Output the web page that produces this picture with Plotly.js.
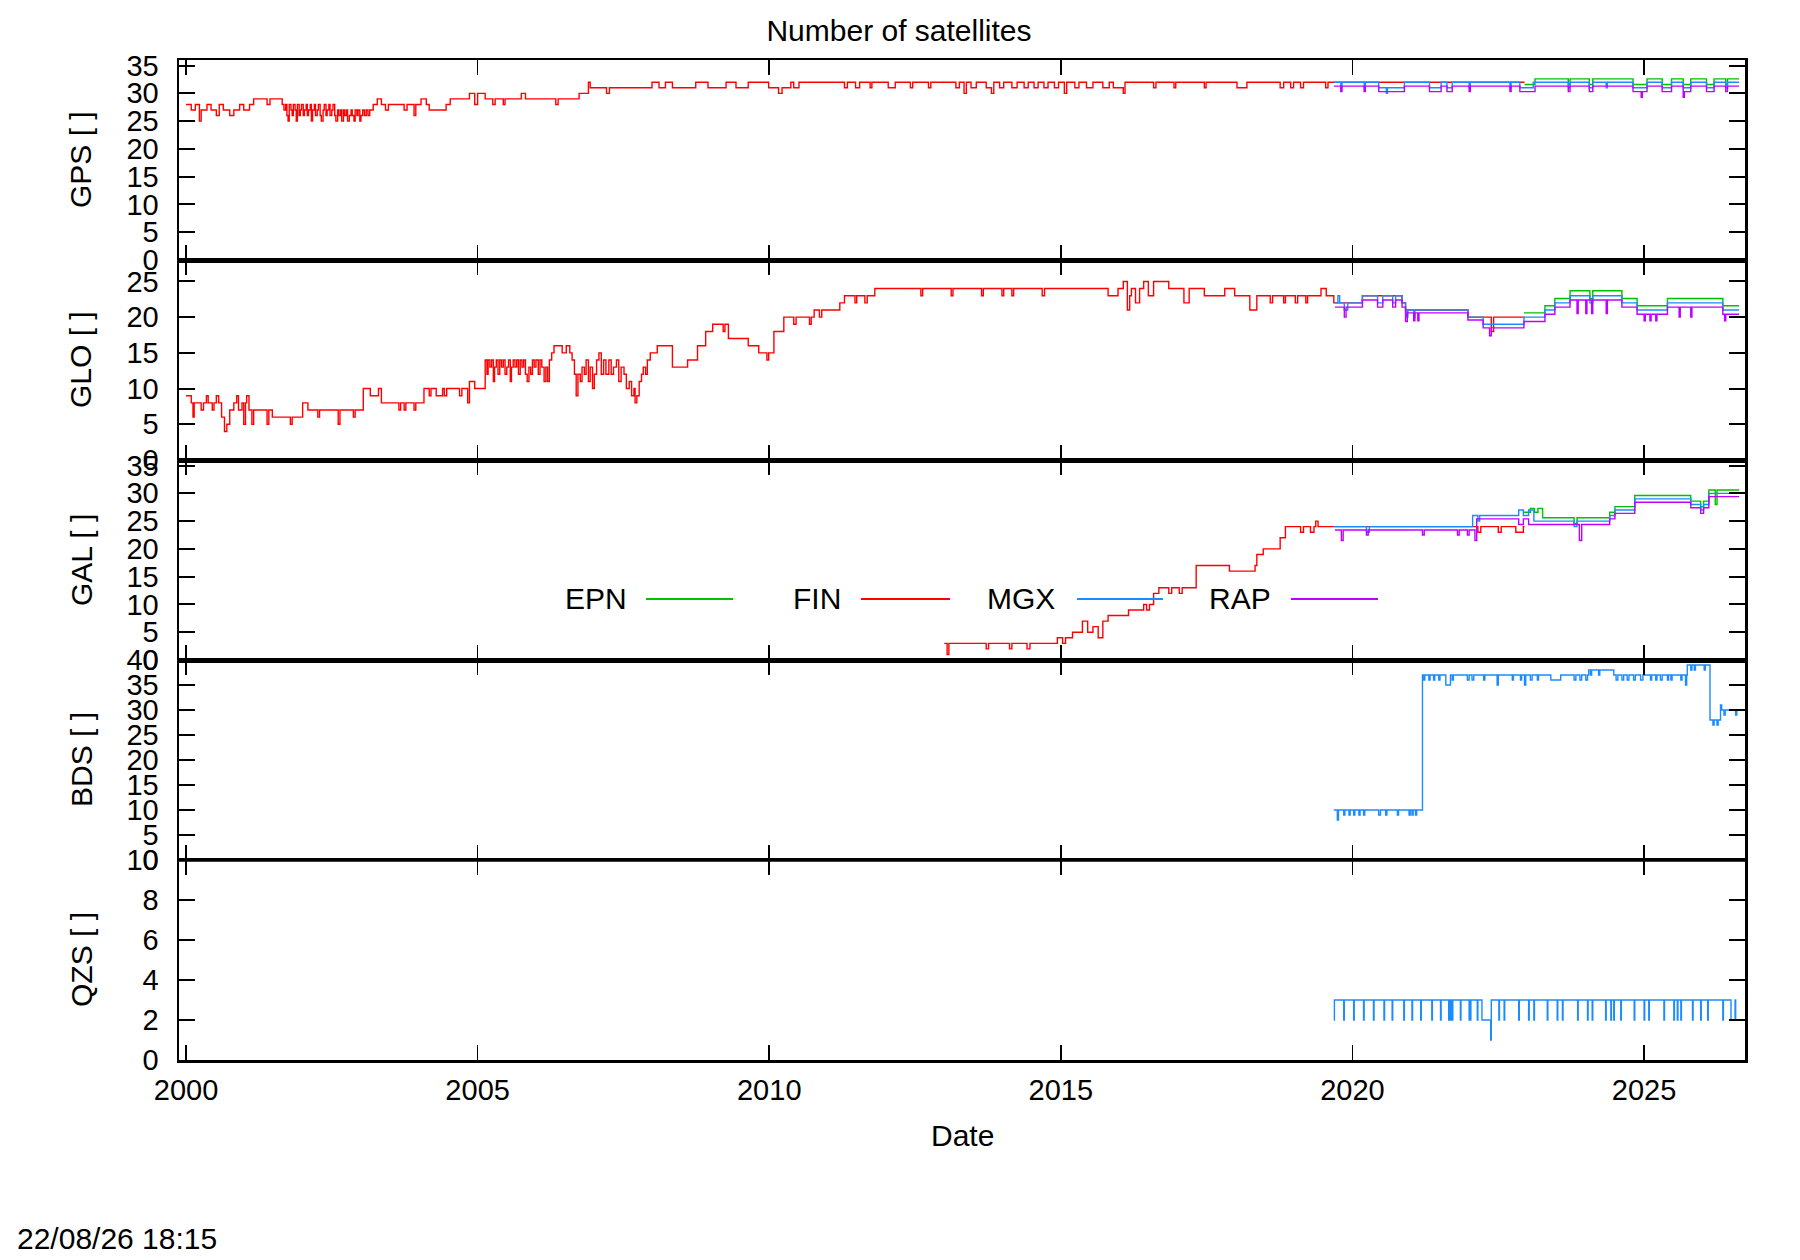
<!DOCTYPE html>
<html>
<head>
<meta charset="utf-8">
<script src="https://cdn.plot.ly/plotly-3.0.1.min.js"></script>
<style>
  html, body { margin: 0; padding: 0; background: #fff; }
  #chart { width: 1800px; height: 1260px; }
</style>
</head>
<body>
<div id="chart"></div>
<script>
// series are [decimal year, number of satellites] step points

const gpsFin = [[2000.00,28],[2000.09,27],[2000.16,28],[2000.23,25],[2000.26,27],[2000.36,28],[2000.43,27],[2000.52,26],[2000.57,28],[2000.64,27],[2000.75,26],[2000.82,27],[2000.92,28],[2000.99,27],[2001.09,28],[2001.16,29],[2001.39,28],[2001.44,29],[2001.65,28],[2001.68,27],[2001.71,28],[2001.73,26],[2001.75,25],[2001.77,28],[2001.80,27],[2001.82,26],[2001.84,28],[2001.87,27],[2001.89,25],[2001.91,28],[2001.94,26],[2001.96,27],[2001.98,28],[2002.01,26],[2002.03,27],[2002.06,28],[2002.08,26],[2002.10,27],[2002.13,28],[2002.15,25],[2002.17,27],[2002.20,28],[2002.22,26],[2002.25,27],[2002.27,28],[2002.30,26],[2002.32,25],[2002.35,27],[2002.37,28],[2002.40,26],[2002.42,27],[2002.45,28],[2002.47,26],[2002.50,27],[2002.52,28],[2002.55,26],[2002.57,25],[2002.60,27],[2002.62,26],[2002.65,27],[2002.67,25],[2002.70,27],[2002.72,26],[2002.75,27],[2002.77,25],[2002.80,26],[2002.83,27],[2002.85,26],[2002.88,25],[2002.90,27],[2002.93,26],[2002.95,27],[2002.98,25],[2003.00,26],[2003.03,27],[2003.06,26],[2003.09,27],[2003.12,26],[2003.15,27],[2003.21,28],[2003.28,29],[2003.35,28],[2003.42,27],[2003.47,28],[2003.74,27],[2003.79,28],[2003.91,26],[2003.94,28],[2004.03,29],[2004.12,28],[2004.17,27],[2004.46,28],[2004.53,29],[2004.86,30],[2004.95,28],[2005.00,30],[2005.13,29],[2005.26,28],[2005.30,29],[2005.44,28],[2005.47,29],[2005.75,30],[2005.82,29],[2006.34,28],[2006.38,29],[2006.74,30],[2006.90,32],[2006.93,31],[2007.21,30],[2007.26,31],[2007.99,32],[2008.11,31],[2008.22,32],[2008.34,31],[2008.74,32],[2008.95,31],[2009.26,32],[2009.43,31],[2009.64,32],[2009.99,31],[2010.16,30],[2010.22,31],[2010.37,32],[2010.42,31],[2010.51,32],[2011.29,31],[2011.34,32],[2011.48,31],[2011.55,32],[2011.73,31],[2011.76,32],[2012.04,31],[2012.16,32],[2012.42,31],[2012.46,32],[2012.73,31],[2012.77,32],[2013.20,31],[2013.26,32],[2013.34,30],[2013.38,32],[2013.46,31],[2013.55,32],[2013.72,31],[2013.81,30],[2013.85,32],[2013.95,31],[2014.02,32],[2014.16,31],[2014.25,32],[2014.37,31],[2014.44,32],[2014.54,31],[2014.61,32],[2014.71,31],[2014.78,32],[2014.89,31],[2014.96,32],[2015.06,30],[2015.10,32],[2015.24,31],[2015.31,32],[2015.44,31],[2015.55,32],[2015.72,31],[2015.83,32],[2015.90,31],[2016.07,30],[2016.10,32],[2016.59,31],[2016.63,32],[2016.94,31],[2016.97,32],[2017.46,31],[2017.49,32],[2018.02,31],[2018.19,32],[2018.76,31],[2018.82,32],[2018.94,31],[2018.99,32],[2019.11,31],[2019.16,32],[2019.54,31],[2019.58,32],[2022.95,32]];

const gpsEpn = [[2022.95,31.6],[2023.13,32.6],[2023.70,31.6],[2023.73,32.6],[2024.06,31.6],[2024.12,32.6],[2024.81,31.6],[2025.05,32.6],[2025.31,31.6],[2025.47,32.6],[2025.67,31.6],[2025.80,32.6],[2026.07,31.6],[2026.20,32.6],[2026.40,31.6],[2026.43,32.6],[2026.63,32.6]];

const gpsMgx = [[2019.68,32],[2019.80,31],[2019.82,32],[2020.20,31],[2020.22,32],[2020.45,31],[2020.58,30],[2020.60,31],[2020.89,32],[2021.32,31],[2021.52,32],[2021.62,31],[2021.71,32],[2022.00,31],[2022.02,32],[2022.70,31],[2022.72,32],[2022.87,31],[2023.10,32],[2023.70,31],[2023.73,32],[2024.06,31],[2024.12,32],[2024.35,31],[2024.37,32],[2024.81,31],[2025.05,32],[2025.31,31],[2025.47,32],[2025.67,31],[2025.80,32],[2026.07,31],[2026.20,32],[2026.40,31],[2026.43,32],[2026.63,32]];

const gpsRap = [[2019.68,31.3],[2019.80,30.3],[2019.82,31.3],[2020.20,30.3],[2020.22,31.3],[2020.45,30.3],[2020.89,31.3],[2021.32,30.3],[2021.52,31.3],[2021.62,30.3],[2021.71,31.3],[2022.00,30.3],[2022.02,31.3],[2022.70,30.3],[2022.72,31.3],[2022.87,30.3],[2023.13,31.3],[2023.70,30.3],[2023.73,31.3],[2024.06,30.3],[2024.12,31.3],[2024.81,30.3],[2024.95,29.3],[2024.97,30.3],[2025.05,31.3],[2025.31,30.3],[2025.47,31.3],[2025.67,29.3],[2025.69,30.3],[2025.80,31.3],[2026.07,30.3],[2026.20,31.3],[2026.40,30.3],[2026.43,31.3],[2026.63,31.3]];

const gloFin = [[2000.00,9],[2000.09,8],[2000.12,6],[2000.14,8],[2000.26,7],[2000.30,8],[2000.35,9],[2000.38,8],[2000.45,7],[2000.48,8],[2000.52,9],[2000.56,8],[2000.61,6],[2000.66,4],[2000.70,5],[2000.75,7],[2000.82,8],[2000.87,9],[2000.90,7],[2000.96,8],[2000.99,5],[2001.02,8],[2001.04,9],[2001.08,7],[2001.13,5],[2001.16,7],[2001.39,5],[2001.42,7],[2001.48,6],[2001.79,5],[2001.82,6],[2002.00,8],[2002.09,7],[2002.26,6],[2002.29,7],[2002.61,5],[2002.64,7],[2002.87,6],[2002.90,7],[2003.04,10],[2003.16,9],[2003.30,10],[2003.35,8],[2003.65,7],[2003.68,8],[2003.74,7],[2003.77,8],[2003.91,7],[2003.94,8],[2004.08,10],[2004.17,9],[2004.20,10],[2004.29,9],[2004.40,10],[2004.43,9],[2004.47,10],[2004.69,9],[2004.73,10],[2004.83,8],[2004.86,11],[2004.95,10],[2005.13,14],[2005.16,12],[2005.18,14],[2005.21,13],[2005.24,14],[2005.27,11],[2005.29,13],[2005.32,14],[2005.35,12],[2005.38,14],[2005.41,13],[2005.44,14],[2005.47,12],[2005.50,13],[2005.53,14],[2005.56,11],[2005.58,13],[2005.61,14],[2005.64,13],[2005.67,14],[2005.70,12],[2005.73,14],[2005.76,13],[2005.79,14],[2005.82,12],[2005.85,11],[2005.88,13],[2005.91,12],[2005.94,14],[2005.97,13],[2006.00,14],[2006.04,12],[2006.07,14],[2006.10,13],[2006.14,11],[2006.17,13],[2006.20,11],[2006.23,14],[2006.27,15],[2006.31,16],[2006.45,15],[2006.52,16],[2006.58,15],[2006.62,14],[2006.66,12],[2006.69,9],[2006.72,12],[2006.76,11],[2006.79,13],[2006.83,12],[2006.86,14],[2006.90,11],[2006.93,13],[2006.97,10],[2007.00,12],[2007.04,14],[2007.08,15],[2007.12,12],[2007.16,14],[2007.20,12],[2007.25,14],[2007.29,12],[2007.33,13],[2007.38,14],[2007.42,11],[2007.46,13],[2007.51,12],[2007.55,10],[2007.60,11],[2007.64,9],[2007.68,10],[2007.70,8],[2007.73,9],[2007.77,11],[2007.81,12],[2007.84,13],[2007.88,12],[2007.91,14],[2007.96,15],[2008.08,16],[2008.34,13],[2008.60,14],[2008.77,16],[2008.91,18],[2009.03,19],[2009.21,18],[2009.24,19],[2009.30,17],[2009.64,16],[2009.82,15],[2009.96,14],[2009.99,15],[2010.08,18],[2010.25,20],[2010.42,19],[2010.46,20],[2010.69,19],[2010.72,20],[2010.77,21],[2010.86,20],[2010.90,21],[2011.21,22],[2011.29,23],[2011.47,22],[2011.50,23],[2011.64,22],[2011.68,23],[2011.81,24],[2012.60,23],[2012.63,24],[2013.12,23],[2013.15,24],[2013.64,23],[2013.67,24],[2013.99,23],[2014.02,24],[2014.16,23],[2014.19,24],[2014.68,23],[2014.72,24],[2015.81,23],[2015.98,24],[2016.07,25],[2016.14,21],[2016.18,23],[2016.21,24],[2016.28,22],[2016.35,24],[2016.42,25],[2016.50,23],[2016.59,25],[2016.85,24],[2017.11,22],[2017.20,24],[2017.46,23],[2017.81,24],[2017.98,23],[2018.24,21],[2018.36,23],[2018.59,22],[2018.63,23],[2018.82,22],[2018.85,23],[2019.02,22],[2019.06,23],[2019.20,22],[2019.23,23],[2019.46,24],[2019.55,23],[2019.68,22],[2020.17,23],[2020.85,22],[2020.91,21],[2021.98,20],[2022.38,18],[2022.42,20],[2022.95,20]];

const gloEpn = [[2022.94,20.6],[2023.30,21.6],[2023.47,22.6],[2023.73,23.7],[2024.07,22.6],[2024.12,23.7],[2024.62,22.6],[2024.88,21.6],[2025.40,22.6],[2026.35,21.6],[2026.63,21.6]];

const gloMgx = [[2019.70,22],[2019.75,23],[2019.78,22],[2019.86,21],[2019.92,22],[2020.17,23],[2020.43,22],[2020.52,23],[2020.69,22],[2020.74,23],[2020.85,22],[2020.91,21],[2020.93,20],[2020.95,21],[2021.05,20],[2021.07,21],[2021.98,20],[2022.24,19],[2022.94,20],[2023.30,21],[2023.47,22],[2023.73,23],[2024.07,22],[2024.12,23],[2024.62,22],[2024.88,21],[2025.40,22],[2026.35,21],[2026.63,21]];

const gloRap = [[2019.70,21.4],[2019.86,20.0],[2019.89,21.4],[2020.17,22.4],[2020.43,21.4],[2020.52,22.4],[2020.69,21.4],[2020.74,22.4],[2020.85,21.4],[2020.91,19.4],[2020.94,20.6],[2021.05,19.5],[2021.07,20.6],[2021.12,19.5],[2021.14,20.6],[2021.98,19.6],[2022.24,18.5],[2022.35,17.4],[2022.38,18.5],[2022.94,19.4],[2023.30,20.4],[2023.47,21.4],[2023.73,22.4],[2023.85,20.5],[2023.87,22.4],[2024.00,20.5],[2024.02,22.4],[2024.10,20.5],[2024.12,22.4],[2024.35,20.5],[2024.37,22.4],[2024.62,21.4],[2024.88,20.4],[2025.00,19.5],[2025.02,20.4],[2025.10,19.5],[2025.12,20.4],[2025.20,19.5],[2025.22,20.4],[2025.40,21.4],[2025.60,20.0],[2025.62,21.4],[2025.80,20.0],[2025.82,21.4],[2026.35,20.4],[2026.38,19.5],[2026.40,20.4],[2026.63,20.4]];

const galFin = [[2013.00,3],[2013.05,1],[2013.08,3],[2013.72,2],[2013.76,3],[2014.12,2],[2014.16,3],[2014.42,2],[2014.47,3],[2014.94,4],[2015.03,3],[2015.08,4],[2015.20,5],[2015.37,7],[2015.46,5],[2015.55,6],[2015.64,4],[2015.72,7],[2015.81,8],[2016.16,9],[2016.42,10],[2016.47,9],[2016.52,10],[2016.59,12],[2016.68,13],[2016.85,12],[2016.90,13],[2017.03,12],[2017.08,13],[2017.32,17],[2017.89,16],[2018.33,17],[2018.36,19],[2018.47,20],[2018.76,22],[2018.85,24],[2019.11,23],[2019.16,24],[2019.28,23],[2019.34,24],[2019.37,25],[2019.41,24],[2022.06,24],[2022.15,23],[2022.20,24],[2022.50,23],[2022.55,24],[2022.80,23],[2022.93,24],[2022.95,24]];

const galEpn = [[2022.93,26.6],[2023.05,27.3],[2023.12,26.6],[2023.18,27.3],[2023.26,25.6],[2023.80,24.6],[2023.85,25.6],[2024.41,26.6],[2024.50,27.6],[2024.84,29.6],[2025.80,28.6],[2025.97,27.6],[2026.02,28.6],[2026.11,30.6],[2026.22,28.0],[2026.25,30.6],[2026.63,30.6]];

const galMgx = [[2019.68,24],[2020.24,23],[2020.29,24],[2022.06,26],[2022.15,25],[2022.18,26],[2022.85,27],[2022.93,26],[2023.02,27],[2023.11,25],[2023.80,24],[2023.85,25],[2024.41,26],[2024.50,27],[2024.84,29],[2025.80,28],[2025.97,27],[2026.02,28],[2026.11,30],[2026.63,30]];

const galRap = [[2019.70,23.4],[2019.81,21.5],[2019.84,23.4],[2020.24,22.5],[2020.27,23.4],[2021.20,22.5],[2021.23,23.4],[2021.80,22.5],[2021.83,23.4],[2021.97,22.5],[2022.00,23.4],[2022.10,21.5],[2022.13,25.4],[2022.85,24.4],[2022.93,25.4],[2023.02,24.4],[2023.89,21.5],[2023.93,24.4],[2024.41,25.4],[2024.50,26.4],[2024.84,28.4],[2025.80,27.4],[2025.97,26.4],[2026.02,27.4],[2026.11,29.4],[2026.63,29.4]];

const bdsMgx = [[2019.68,10],[2019.74,8],[2019.76,10],[2019.85,9],[2019.87,10],[2019.94,9],[2019.96,10],[2020.02,9],[2020.04,10],[2020.11,9],[2020.13,10],[2020.19,9],[2020.21,10],[2020.45,9],[2020.48,10],[2020.57,9],[2020.59,10],[2020.77,9],[2020.79,10],[2020.97,9],[2020.99,10],[2021.02,9],[2021.04,10],[2021.08,9],[2021.10,10],[2021.20,37],[2021.22,36],[2021.24,37],[2021.31,36],[2021.33,37],[2021.39,36],[2021.41,37],[2021.48,36],[2021.50,37],[2021.60,35],[2021.68,37],[2021.71,36],[2021.73,37],[2021.97,36],[2022.00,37],[2022.05,36],[2022.08,37],[2022.25,36],[2022.27,37],[2022.48,35],[2022.50,37],[2022.74,36],[2022.76,37],[2022.88,36],[2022.90,37],[2022.95,35],[2022.97,37],[2023.05,36],[2023.08,37],[2023.17,36],[2023.19,37],[2023.40,36],[2023.57,37],[2023.80,36],[2023.83,37],[2023.90,36],[2023.93,37],[2024.00,36],[2024.03,37],[2024.05,38],[2024.08,37],[2024.10,38],[2024.22,37],[2024.24,38],[2024.48,37],[2024.52,36],[2024.55,37],[2024.62,36],[2024.65,37],[2024.71,36],[2024.74,37],[2024.82,36],[2024.85,37],[2024.94,36],[2024.98,37],[2025.11,36],[2025.13,37],[2025.20,36],[2025.22,37],[2025.28,36],[2025.31,37],[2025.40,36],[2025.42,37],[2025.46,36],[2025.48,37],[2025.63,36],[2025.65,37],[2025.71,35],[2025.73,37],[2025.74,39],[2025.80,38],[2025.82,39],[2025.86,38],[2025.88,39],[2026.03,38],[2026.05,39],[2026.13,28],[2026.18,27],[2026.20,28],[2026.25,27],[2026.27,28],[2026.31,31],[2026.33,30],[2026.37,29],[2026.39,30],[2026.57,29],[2026.59,30],[2026.63,30]];

const qzsMgx = [[2019.68,2],[2019.69,3],[2019.85,2],[2019.86,3],[2020.02,2],[2020.03,3],[2020.19,2],[2020.20,3],[2020.36,2],[2020.37,3],[2020.54,2],[2020.55,3],[2020.68,2],[2020.69,3],[2020.88,2],[2020.89,3],[2021.02,2],[2021.03,3],[2021.17,2],[2021.18,3],[2021.36,2],[2021.37,3],[2021.51,2],[2021.52,3],[2021.65,2],[2021.66,3],[2021.68,2],[2021.69,3],[2021.71,2],[2021.72,3],[2021.85,2],[2021.86,3],[2022.00,2],[2022.01,3],[2022.02,2],[2022.03,3],[2022.14,2],[2022.15,3],[2022.22,2],[2022.37,1],[2022.38,3],[2022.51,2],[2022.52,3],[2022.60,2],[2022.61,3],[2022.85,2],[2022.86,3],[2023.02,2],[2023.03,3],[2023.11,2],[2023.12,3],[2023.34,2],[2023.35,3],[2023.51,2],[2023.52,3],[2023.60,2],[2023.61,3],[2023.86,2],[2023.87,3],[2024.03,2],[2024.04,3],[2024.11,2],[2024.12,3],[2024.34,2],[2024.35,3],[2024.43,2],[2024.44,3],[2024.48,2],[2024.49,3],[2024.60,2],[2024.61,3],[2024.83,2],[2024.84,3],[2025.00,2],[2025.01,3],[2025.08,2],[2025.09,3],[2025.34,2],[2025.35,3],[2025.51,2],[2025.52,3],[2025.57,2],[2025.58,3],[2025.63,2],[2025.64,3],[2025.83,2],[2025.84,3],[2025.97,2],[2025.98,3],[2026.09,2],[2026.10,3],[2026.35,2],[2026.36,3],[2026.49,2],[2026.56,3],[2026.57,2],[2026.63,2]];

const systems = ['GPS', 'GLO', 'GAL', 'BDS', 'QZS'];
const yRanges = [[0, 36], [0, 28], [0, 36], [0, 40], [0, 10]];
const yDticks = [5, 5, 5, 5, 2];
const xTicks = [2000, 2005, 2010, 2015, 2020, 2025];
const solutions = ['EPN', 'FIN', 'MGX', 'RAP'];
const colors = { EPN: '#00c000', FIN: '#ff0000', MGX: '#1a8cff', RAP: '#c000ff' };

// per panel, in drawing order EPN, FIN, MGX, RAP
const panelSeries = [
    { EPN: gpsEpn, FIN: gpsFin, MGX: gpsMgx, RAP: gpsRap },
    { EPN: gloEpn, FIN: gloFin, MGX: gloMgx, RAP: gloRap },
    { EPN: galEpn, FIN: galFin, MGX: galMgx, RAP: galRap },
    { MGX: bdsMgx },
    { MGX: qzsMgx }
];

const FONT = '"Liberation Sans", Arial, Helvetica, sans-serif';
const TICK_SIZE = 29;
const LABEL_SIZE = 30;
const traces = [];
const layout = {
    width: 1800, height: 1260,
    paper_bgcolor: '#fff', plot_bgcolor: '#fff',
    showlegend: false,
    font: { family: FONT, size: LABEL_SIZE, color: '#000' },
    margin: { l: 179, r: 55, t: 60, b: 200 },
    title: {
        text: 'Number of satellites',
        xref: 'container', x: 899 / 1800, xanchor: 'center',
        yref: 'container', y: 1 - 30 / 1260, yanchor: 'middle',
        font: { size: LABEL_SIZE, color: '#000' }
    },
    annotations: [],
    shapes: []
};

systems.forEach((sys, i) => {
    const n = i + 1;
    const ax = n === 1 ? '' : String(n);
    const top = 1 - i * 0.2;

    solutions.forEach(sol => {
        const s = panelSeries[i][sol];
        if (!s) return;
        traces.push({
            x: s.map(p => p[0]), y: s.map(p => p[1]),
            xaxis: 'x' + ax, yaxis: 'y' + ax,
            type: 'scatter', mode: 'lines',
            line: { color: colors[sol], width: 1.4, shape: 'hv' },
            hoverinfo: 'skip'
        });
    });

    layout['xaxis' + ax] = {
        domain: [0, 1], anchor: 'y' + ax,
        range: [1999.88, 2026.73],
        tickmode: 'array', tickvals: xTicks, ticktext: xTicks.map(String),
        ticks: 'inside', ticklen: 15, tickwidth: 1.5, tickcolor: '#000',
        showticklabels: n === 5, ticklabelstandoff: 3,
        showline: true, linewidth: 2.5, linecolor: '#000', mirror: 'ticks',
        showgrid: false, zeroline: false,
        tickfont: { size: TICK_SIZE, color: '#000' }
    };
    layout['yaxis' + ax] = {
        domain: [top - 0.2, top], anchor: 'x' + ax,
        range: yRanges[i], dtick: yDticks[i], tick0: 0,
        ticks: 'inside', ticklen: 16, tickwidth: 2, tickcolor: '#000',
        ticklabelstandoff: 12,
        showline: true, linewidth: 2.5, linecolor: '#000', mirror: 'ticks',
        showgrid: false, zeroline: false,
        tickfont: { size: TICK_SIZE, color: '#000' }
    };

    layout.annotations.push({
        xref: 'paper', yref: 'paper', x: (81 - 179) / 1566, y: top - 0.1,
        text: sys + ' [ ]', textangle: -90, showarrow: false,
        xanchor: 'center', yanchor: 'middle',
        font: { size: LABEL_SIZE, color: '#000' }
    });

    // heavy separator between stacked panels, as in the original
    if (i > 0) {
        layout.shapes.push({
            type: 'line', xref: 'paper', yref: 'paper', layer: 'above',
            x0: 0, x1: 1, y0: top, y1: top,
            line: { color: '#000', width: 3.5 }
        });
    }
});

// x axis title and time stamp
layout.annotations.push({
    xref: 'paper', yref: 'paper', x: (962 - 179) / 1566, y: (1060 - 1135) / 1000,
    text: 'Date', showarrow: false, xanchor: 'center', yanchor: 'middle',
    font: { size: LABEL_SIZE, color: '#000' }
});
layout.annotations.push({
    xref: 'paper', yref: 'paper', x: (15 - 179) / 1566, y: (1060 - 1238) / 1000,
    text: '22/08/26 18:15', showarrow: false, xanchor: 'left', yanchor: 'middle',
    font: { size: LABEL_SIZE, color: '#000' }
});

// legend inside the GAL panel: label then line sample, gnuplot style
const legendTextRight = [629, 843, 1057, 1273];
const legendLine = [[646, 733], [861, 950], [1077, 1163], [1291, 1378]];
solutions.forEach((sol, k) => {
    layout.annotations.push({
        xref: 'paper', yref: 'paper',
        x: (legendTextRight[k] - 179) / 1566, y: (1060 - 598) / 1000,
        text: sol, showarrow: false, xanchor: 'right', yanchor: 'middle',
        font: { size: LABEL_SIZE, color: '#000' }
    });
    layout.shapes.push({
        type: 'line', xref: 'paper', yref: 'paper', layer: 'above',
        x0: (legendLine[k][0] - 179) / 1566, x1: (legendLine[k][1] - 179) / 1566,
        y0: (1060 - 599) / 1000, y1: (1060 - 599) / 1000,
        line: { color: colors[sol], width: 2 }
    });
});

Plotly.newPlot('chart', traces, layout, { displayModeBar: false, staticPlot: true });
</script>
</body>
</html>
